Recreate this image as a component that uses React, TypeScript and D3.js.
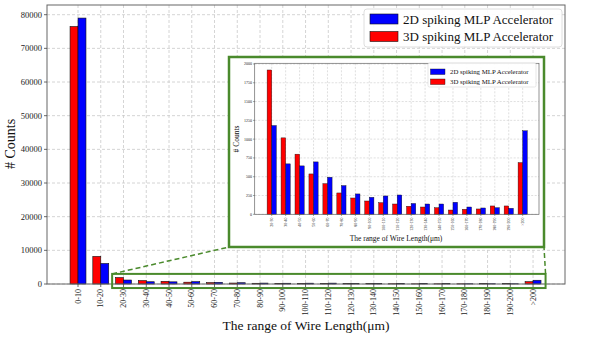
import React from 'react';
import * as d3 from 'd3';

const categories = ['0-10', '10-20', '20-30', '30-40', '40-50', '50-60', '60-70', '70-80', '80-90', '90-100',
  '100-110', '110-120', '120-130', '130-140', '140-150', '150-160', '160-170', '170-180', '180-190', '190-200', '>200'];
const counts3D = [76500, 8200, 1920, 1017, 800, 537, 408, 284, 217, 177, 155, 137, 107, 97, 88, 57, 67, 71, 111, 111, 688];
const counts2D = [79000, 6100, 1181, 671, 644, 697, 493, 382, 271, 226, 244, 257, 144, 137, 137, 160, 97, 84, 88, 80, 1111];
const mainYTicks = [0, 10000, 20000, 30000, 40000, 50000, 60000, 70000, 80000];
const insetYTicks = [0, 250, 500, 750, 1000, 1250, 1500, 1750, 2000];
const seriesNames = ['2D spiking MLP Accelerator', '3D spiking MLP Accelerator'];

const W = 598;
const H = 337;
const font = '"Liberation Serif", "DejaVu Serif", serif';
const green = '#4a8a2c';
const gridColor = '#c9c9c9';

const App = () => {
  // main axes
  const x = d3.scaleLinear().domain([-1.363, 21.404]).range([47, 565]);
  const y = d3.scaleLinear().domain([0, 82880]).range([284, 5]);
  const bw = 0.35;

  // inset
  const insetCats = categories.slice(2);
  const in3D = counts3D.slice(2);
  const in2D = counts2D.slice(2);
  const ix = d3.scaleLinear().domain([-1.22, 19.17]).range([254.7, 539]);
  const iy = d3.scaleLinear().domain([0, 2009]).range([214.3, 63.3]);
  const ibw = 0.33;
  const box = { x0: 229, y0: 57, x1: 544, y1: 247 };

  const zx0 = x(1.5);
  const zx1 = x(20.55);
  const zy0 = y(3000);
  const zy1 = y(-1200);

  return (
    <svg width={W} height={H} style={{ position: 'absolute', left: 0, top: 0, background: '#fff' }} fontFamily={font}>
      {/* main grid */}
      {mainYTicks.map(t => (
        <line key={'gy' + t} x1={47} x2={565} y1={y(t)} y2={y(t)} stroke={gridColor} strokeWidth={0.8} strokeDasharray="3,2" />
      ))}
      {categories.map((c, i) => (
        <line key={'gx' + c} x1={x(i)} x2={x(i)} y1={5} y2={284} stroke={gridColor} strokeWidth={0.8} strokeDasharray="3,2" />
      ))}
      {/* main bars */}
      {categories.map((c, i) => (
        <g key={'b' + c}>
          <rect x={x(i - bw)} y={y(counts3D[i])} width={x(bw) - x(0)} height={y(0) - y(counts3D[i])} fill="#ff0000" stroke="#111" strokeWidth={0.6} />
          <rect x={x(i)} y={y(counts2D[i])} width={x(bw) - x(0)} height={y(0) - y(counts2D[i])} fill="#0000ff" stroke="#111" strokeWidth={0.6} />
        </g>
      ))}
      {/* main frame */}
      <rect x={47} y={5} width={518} height={279} fill="none" stroke="#666" strokeWidth={1} />
      {/* y ticks */}
      {mainYTicks.map(t => (
        <g key={'yt' + t}>
          <line x1={44} x2={47} y1={y(t)} y2={y(t)} stroke="#444" strokeWidth={0.8} />
          <text x={42} y={y(t)} dy="0.35em" textAnchor="end" fontSize={8.5} fill="#222">{t}</text>
        </g>
      ))}
      {/* x ticks */}
      {categories.map((c, i) => (
        <g key={'xt' + c}>
          <line x1={x(i)} x2={x(i)} y1={284} y2={287} stroke="#444" strokeWidth={0.8} />
          <text transform={`translate(${x(i)},289) rotate(-90)`} textAnchor="end" dominantBaseline="central" fontSize={8} fill="#222">{c}</text>
        </g>
      ))}
      <text transform={`translate(10,144) rotate(-90)`} textAnchor="middle" dominantBaseline="central" fontSize={14} fill="#111"># Counts</text>
      <text x={306} y={330} textAnchor="middle" fontSize={13.5} fill="#111">The range of Wire Length(μm)</text>

      {/* zoom rectangle & connectors */}
      <rect x={zx0} y={zy0} width={zx1 - zx0} height={zy1 - zy0} fill="none" stroke={green} strokeWidth={2} />
      <line x1={zx0} y1={zy0} x2={box.x0} y2={box.y1} stroke={green} strokeWidth={1.5} strokeDasharray="5,3" />
      <line x1={zx1} y1={zy0} x2={box.x1} y2={box.y1} stroke={green} strokeWidth={1.5} strokeDasharray="5,3" />

      {/* main legend */}
      <rect x={364} y={9} width={198} height={38} rx={3} fill="#fff" fillOpacity={0.9} stroke="#d6d6d6" strokeWidth={0.8} />
      {seriesNames.map((s, i) => (
        <g key={'lg' + s}>
          <rect x={370} y={14 + i * 17.5} width={28} height={10} fill={i === 0 ? '#0000ff' : '#ff0000'} stroke="#111" strokeWidth={0.6} />
          <text x={403} y={19 + i * 17.5} dy="0.35em" fontSize={13} fill="#111">{s}</text>
        </g>
      ))}

      {/* inset */}
      <rect x={box.x0} y={box.y0} width={box.x1 - box.x0} height={box.y1 - box.y0} fill="#fff" stroke={green} strokeWidth={2.5} />
      {insetYTicks.map(t => (
        <line key={'igy' + t} x1={254.7} x2={539} y1={iy(t)} y2={iy(t)} stroke={gridColor} strokeWidth={0.6} strokeDasharray="2,1.5" />
      ))}
      {insetCats.map((c, i) => (
        <line key={'igx' + c} x1={ix(i)} x2={ix(i)} y1={63.3} y2={214.3} stroke={gridColor} strokeWidth={0.6} strokeDasharray="2,1.5" />
      ))}
      {insetCats.map((c, i) => (
        <g key={'ib' + c}>
          <rect x={ix(i - ibw)} y={iy(in3D[i])} width={ix(ibw) - ix(0)} height={iy(0) - iy(in3D[i])} fill="#ff0000" stroke="#111" strokeWidth={0.4} />
          <rect x={ix(i)} y={iy(in2D[i])} width={ix(ibw) - ix(0)} height={iy(0) - iy(in2D[i])} fill="#0000ff" stroke="#111" strokeWidth={0.4} />
        </g>
      ))}
      <rect x={254.7} y={63.3} width={539 - 254.7} height={214.3 - 63.3} fill="none" stroke="#666" strokeWidth={0.7} />
      {insetYTicks.map(t => (
        <g key={'iyt' + t}>
          <line x1={253} x2={254.7} y1={iy(t)} y2={iy(t)} stroke="#444" strokeWidth={0.5} />
          <text x={252} y={iy(t)} dy="0.35em" textAnchor="end" fontSize={4} fill="#222">{t}</text>
        </g>
      ))}
      {insetCats.map((c, i) => (
        <g key={'ixt' + c}>
          <line x1={ix(i)} x2={ix(i)} y1={214.3} y2={216} stroke="#444" strokeWidth={0.5} />
          <text transform={`translate(${ix(i)},217.5) rotate(-90)`} textAnchor="end" dominantBaseline="central" fontSize={4} fill="#222">{c}</text>
        </g>
      ))}
      <text transform={`translate(236,139) rotate(-90)`} textAnchor="middle" dominantBaseline="central" fontSize={7.5} fill="#111"># Counts</text>
      <text x={396} y={238} dy="0.35em" textAnchor="middle" fontSize={7.5} fill="#111">The range of Wire Length(μm)</text>
      <rect x={428} y={63} width={108} height={24} rx={1.5} fill="#fff" fillOpacity={0.9} stroke="#d6d6d6" strokeWidth={0.6} />
      {seriesNames.map((s, i) => (
        <g key={'ilg' + s}>
          <rect x={430.5} y={69 + i * 10} width={14.5} height={5.5} fill={i === 0 ? '#0000ff' : '#ff0000'} stroke="#111" strokeWidth={0.4} />
          <text x={450} y={71.8 + i * 10} dy="0.35em" fontSize={6.8} fill="#111">{s}</text>
        </g>
      ))}
    </svg>
  );
};

export default App;
